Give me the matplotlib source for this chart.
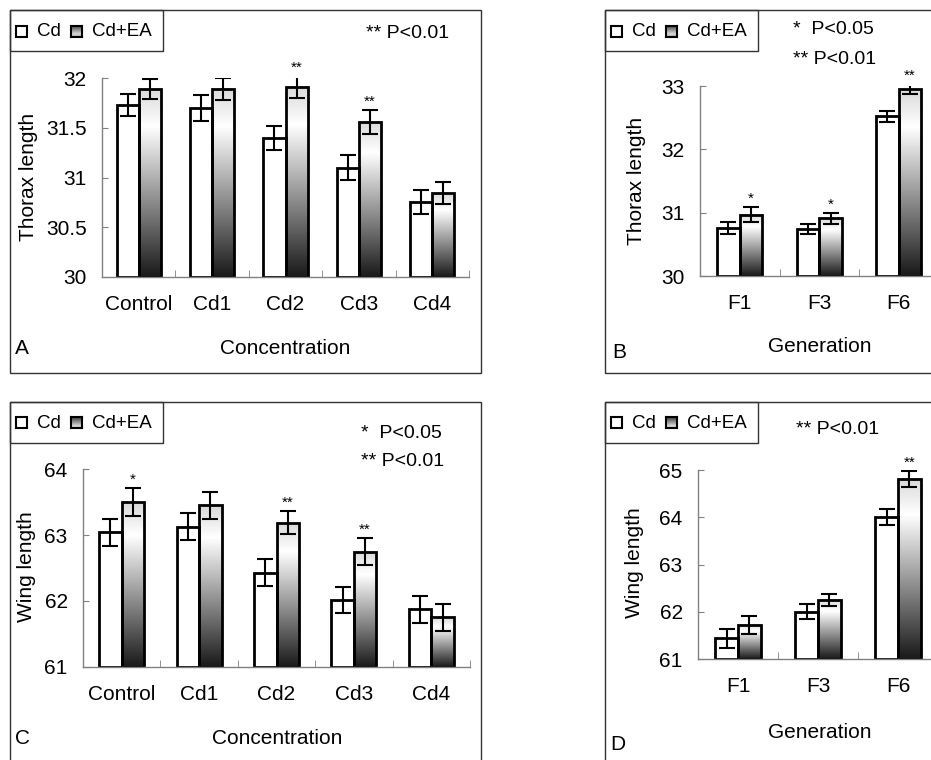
import numpy as np
import matplotlib
matplotlib.use("Agg")
import matplotlib.pyplot as plt
from matplotlib.patches import Rectangle

# ---- data ----
conc_cats = ["Control", "Cd1", "Cd2", "Cd3", "Cd4"]
gen_cats = ["F1", "F3", "F6"]

# A: thorax length vs concentration
thorax_conc_cd = [31.73, 31.70, 31.40, 31.10, 30.75]
thorax_conc_cd_err = [0.11, 0.13, 0.12, 0.13, 0.12]
thorax_conc_ea = [31.89, 31.89, 31.91, 31.56, 30.84]
thorax_conc_ea_err = [0.10, 0.11, 0.11, 0.12, 0.11]
thorax_conc_sig = ["", "", "**", "**", ""]

# B: thorax length vs generation
thorax_gen_cd = [30.76, 30.74, 32.52]
thorax_gen_cd_err = [0.10, 0.08, 0.09]
thorax_gen_ea = [30.97, 30.91, 32.95]
thorax_gen_ea_err = [0.12, 0.09, 0.08]
thorax_gen_sig = ["*", "*", "**"]

# C: wing length vs concentration
wing_conc_cd = [63.04, 63.13, 62.43, 62.01, 61.87]
wing_conc_cd_err = [0.21, 0.20, 0.20, 0.20, 0.20]
wing_conc_ea = [63.50, 63.45, 63.19, 62.75, 61.75]
wing_conc_ea_err = [0.21, 0.20, 0.17, 0.20, 0.20]
wing_conc_sig = ["*", "", "**", "**", ""]

# D: wing length vs generation
wing_gen_cd = [61.44, 62.01, 64.00]
wing_gen_cd_err = [0.20, 0.16, 0.17]
wing_gen_ea = [61.73, 62.25, 64.81]
wing_gen_ea_err = [0.19, 0.13, 0.17]
wing_gen_sig = ["", "", "**"]

W, H = 931, 760
FONT = "Liberation Sans"
FS = 15      # ticks / axis labels
FS_LEG = 13.5
FS_P = 14
plt.rcParams["font.family"] = [FONT, "DejaVu Sans"]
plt.rcParams["font.size"] = FS

fig = plt.figure(figsize=(W / 100, H / 100), dpi=100)
fig.patch.set_facecolor("white")


def fx(x):
    return x / W


def fy(y):
    return 1 - y / H


def grad_col(n=200):
    # light grey at the top, white near 20 %, near black at the bottom
    t = np.linspace(0, 1, n)
    v = np.where(t < 0.2, 0.85 + 0.15 * t / 0.2, 1.0 - 0.9 * (t - 0.2) / 0.8)
    return v.reshape(-1, 1)


def frame(l, t, r, b):
    fig.add_artist(Rectangle((fx(l), fy(b)), fx(r - l), (b - t) / H,
                             transform=fig.transFigure, fill=False,
                             edgecolor="#333333", lw=1.0))


def legend(l, t):
    frame(l, t, l + 153, t + 41)
    ys = t + 21
    fig.add_artist(Rectangle((fx(l + 6), fy(ys + 5.5)), fx(11), 11 / H,
                             transform=fig.transFigure, facecolor="white",
                             edgecolor="black", lw=1.5))
    fig.text(fx(l + 27), fy(ys), "Cd", va="center", ha="left", fontsize=FS_LEG)
    sq = fig.add_axes([fx(l + 61), fy(ys + 5.5), fx(11), 11 / H])
    sq.imshow(grad_col()[::-1] * 0.7 + 0.15, cmap="gray", vmin=0, vmax=1,
              aspect="auto", extent=[0, 1, 0, 1])
    sq.set_xticks([])
    sq.set_yticks([])
    for s in sq.spines.values():
        s.set_color("black")
        s.set_linewidth(1.5)
    fig.text(fx(l + 82), fy(ys), "Cd+EA", va="center", ha="left",
             fontsize=FS_LEG)


def panel(box, ax_box, ngroups, cats, cd, cd_err, ea, ea_err, sig,
          ylim, yticks, ylabels, ylab, xlab, xlab_pos, letter, letter_pos,
          ylab_pos, ptexts, bw):
    frame(*box)
    legend(box[0], box[1])
    l, t, r, b = ax_box
    ax = fig.add_axes([fx(l), fy(b), fx(r - l), (b - t) / H])
    ax.set_xlim(0, ngroups)
    ax.set_ylim(*ylim)
    ax.patch.set_alpha(0)
    x = np.arange(ngroups) + 0.5
    ax.bar(x - bw / 2, np.array(cd) - ylim[0], bw, bottom=ylim[0],
           facecolor="white", edgecolor="black", lw=2, zorder=2)
    g = grad_col()
    for xi, v in zip(x, ea):
        ax.imshow(g, cmap="gray", vmin=0, vmax=1, aspect="auto",
                  extent=[xi, xi + bw, ylim[0], v], zorder=1)
    ax.bar(x + bw / 2, np.array(ea) - ylim[0], bw, bottom=ylim[0],
           facecolor="none", edgecolor="black", lw=2, zorder=2)
    ax.errorbar(x - bw / 2, cd, yerr=cd_err, fmt="none", ecolor="black",
                elinewidth=1.5, capsize=5.5, capthick=1.5, zorder=3)
    ax.errorbar(x + bw / 2, ea, yerr=ea_err, fmt="none", ecolor="black",
                elinewidth=1.5, capsize=5.5, capthick=1.5, zorder=3)
    for xi, v, e, s in zip(x, ea, ea_err, sig):
        if s:
            ax.annotate(s, (xi + bw / 2, v + e), xytext=(0, 3),
                        textcoords="offset points", ha="center",
                        va="baseline", fontsize=11, annotation_clip=False)
    ax.set_xlim(0, ngroups)
    ax.set_ylim(*ylim)
    for s in ["top", "right"]:
        ax.spines[s].set_visible(False)
    for s in ["left", "bottom"]:
        ax.spines[s].set_color("#808080")
        ax.spines[s].set_linewidth(1.0)
    ax.set_xticks(x)
    ax.set_xticklabels(cats)
    ax.set_xticks(np.arange(1, ngroups + 1), minor=True)
    ax.tick_params(axis="x", which="major", length=0, pad=13, labelsize=FS)
    ax.tick_params(axis="x", which="minor", direction="in", length=5,
                   color="#808080")
    ax.set_yticks(yticks)
    ax.set_yticklabels(ylabels)
    ax.tick_params(axis="y", direction="in", length=4, color="#808080",
                   pad=11, labelsize=FS)
    fig.text(fx(ylab_pos[0]), fy(ylab_pos[1]), ylab, rotation=90,
             ha="center", va="center", fontsize=FS)
    fig.text(fx(xlab_pos[0]), fy(xlab_pos[1]), xlab, ha="center",
             va="center", fontsize=FS)
    fig.text(fx(letter_pos[0]), fy(letter_pos[1]), letter, ha="left",
             va="center", fontsize=FS)
    for px, py, s in ptexts:
        fig.text(fx(px), fy(py), s, ha="left", va="center", fontsize=FS_P)
    return ax


panel((10, 10, 481, 373), (102, 78, 469, 277), 5, conc_cats,
      thorax_conc_cd, thorax_conc_cd_err, thorax_conc_ea, thorax_conc_ea_err,
      thorax_conc_sig, (30, 32), [30, 30.5, 31, 31.5, 32],
      ["30", "30.5", "31", "31.5", "32"], "Thorax length", "Concentration",
      (285, 348), "A", (15, 348), (28, 177),
      [(366, 33, "** P<0.01")], 0.3)

panel((605, 10, 945, 373), (700, 86, 938.5, 276), 3, gen_cats,
      thorax_gen_cd, thorax_gen_cd_err, thorax_gen_ea, thorax_gen_ea_err,
      thorax_gen_sig, (30, 33), [30, 31, 32, 33],
      ["30", "31", "32", "33"], "Thorax length", "Generation",
      (820, 347), "B", (612, 352), (637, 181),
      [(793, 29, "*  P<0.05"), (793, 59, "** P<0.01")], 0.285)

panel((10, 402, 481, 775), (83, 469.3, 470, 666.7), 5, conc_cats,
      wing_conc_cd, wing_conc_cd_err, wing_conc_ea, wing_conc_ea_err,
      wing_conc_sig, (61, 64), [61, 62, 63, 64],
      ["61", "62", "63", "64"], "Wing length", "Concentration",
      (277, 738), "C", (15, 738), (27, 567),
      [(361, 433, "*  P<0.05"), (361, 461, "** P<0.01")], 0.29)

panel((605, 402, 945, 775), (698, 470, 938, 659.3), 3, gen_cats,
      wing_gen_cd, wing_gen_cd_err, wing_gen_ea, wing_gen_ea_err,
      wing_gen_sig, (61, 65), [61, 62, 63, 64, 65],
      ["61", "62", "63", "64", "65"], "Wing length", "Generation",
      (820, 733), "D", (610, 745), (635, 563),
      [(796, 429, "** P<0.01")], 0.285)

fig.savefig("out.png", dpi=100)
